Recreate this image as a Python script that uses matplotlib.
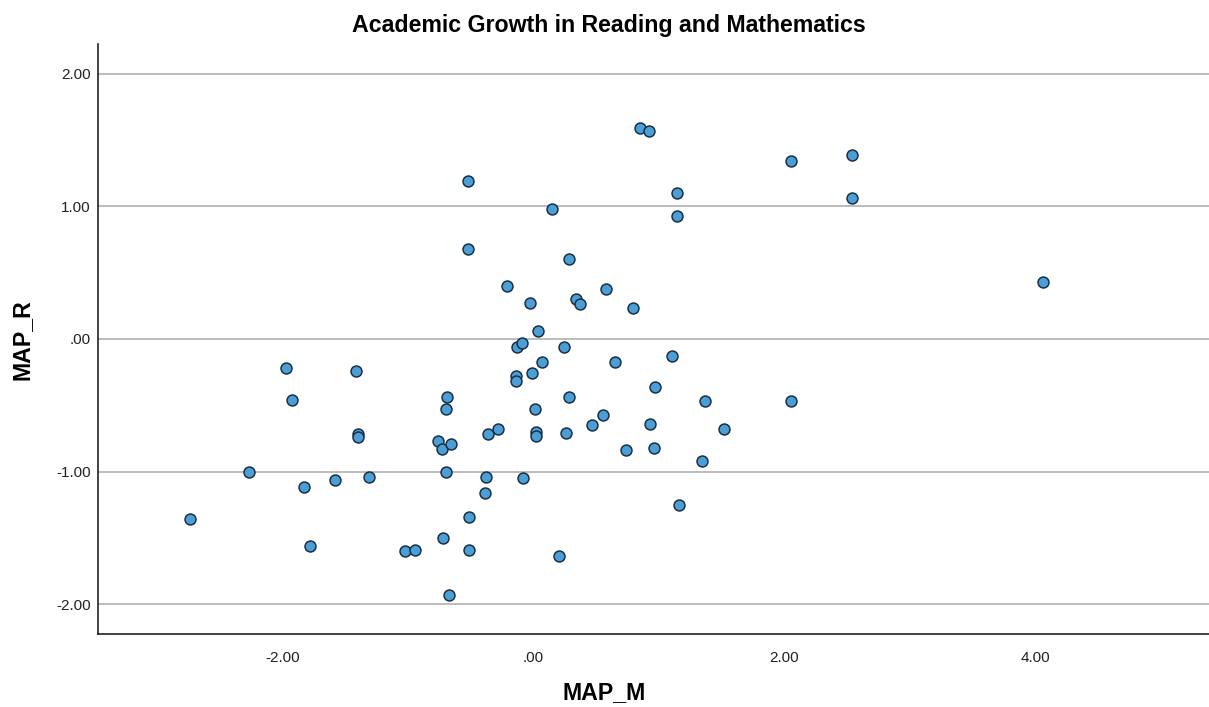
import matplotlib
matplotlib.use("Agg")
import matplotlib.pyplot as plt
from matplotlib.ticker import FuncFormatter

# Standardized growth scores: mathematics (MAP_M) vs reading (MAP_R)
map_m = [-0.52, -0.52, 0.85, 0.92, 2.05, 2.54, 2.54, 1.14, 1.14, 0.15,
         0.28, -0.21, -0.03, 0.34, 0.37, 0.58, 0.79, 0.04, -0.13, -0.09,
         0.24, 0.07, 0.65, 1.10, -0.14, -0.14, -0.01, 0.97, 0.28, 0.01,
         1.37, 2.05, 0.55, 0.47, 0.93, 1.52, -0.28, -0.36, 0.02, 0.02,
         0.26, 0.74, 0.96, 1.34, -0.38, -0.08, -0.39, 1.16, 0.20, -1.97,
         -1.41, -1.92, -0.69, -0.70, -1.40, -1.40, -0.76, -0.73, -0.66, -0.70,
         -2.27, -1.83, -1.58, -1.31, -2.74, -0.51, -1.78, -1.02, -0.94, -0.72,
         -0.51, -0.67, 4.06]
map_r = [1.19, 0.68, 1.59, 1.57, 1.34, 1.39, 1.06, 1.10, 0.93, 0.98,
         0.60, 0.40, 0.27, 0.30, 0.26, 0.38, 0.23, 0.06, -0.06, -0.03,
         -0.06, -0.17, -0.17, -0.13, -0.28, -0.32, -0.26, -0.36, -0.44, -0.53,
         -0.47, -0.47, -0.57, -0.65, -0.64, -0.68, -0.68, -0.72, -0.70, -0.73,
         -0.71, -0.84, -0.82, -0.92, -1.04, -1.05, -1.16, -1.25, -1.64, -0.22,
         -0.24, -0.46, -0.44, -0.53, -0.72, -0.74, -0.77, -0.83, -0.79, -1.00,
         -1.00, -1.12, -1.06, -1.04, -1.36, -1.34, -1.56, -1.60, -1.59, -1.50,
         -1.59, -1.93, 0.43]

x_ticks = [-2.0, 0.0, 2.0, 4.0]
y_ticks = [-2.0, -1.0, 0.0, 1.0, 2.0]

plt.rcParams["font.family"] = ["Liberation Sans", "DejaVu Sans"]

fig = plt.figure(figsize=(12.09, 7.07), dpi=100)
ax = fig.add_axes([0.081, 0.1033, 0.919, 0.8345])

ax.scatter(map_m, map_r, s=62, facecolor="#4a9fd6", edgecolor="#1c2f45",
           linewidths=1.1, zorder=3)

ax.set_xlim(-3.47, 5.382)
ax.set_ylim(-2.225, 2.225)
ax.set_xticks(x_ticks)
ax.set_yticks(y_ticks)


def spss_fmt(v, _pos):
    s = f"{v:.2f}"
    if s.startswith("0."):
        s = s[1:]
    elif s.startswith("-0."):
        s = "-" + s[2:]
    return s


ax.xaxis.set_major_formatter(FuncFormatter(spss_fmt))
ax.yaxis.set_major_formatter(FuncFormatter(spss_fmt))
ax.tick_params(axis="both", length=0, labelsize=11, colors="#222222")
ax.tick_params(axis="x", pad=12)
ax.tick_params(axis="y", pad=5)

ax.yaxis.grid(True, color="#b0b0b0", linewidth=1.2)
ax.set_axisbelow(True)
for side in ("top", "right"):
    ax.spines[side].set_visible(False)
for side in ("left", "bottom"):
    ax.spines[side].set_color("#222222")
    ax.spines[side].set_linewidth(1.2)

fig.text(0.5033, 0.9547, "Academic Growth in Reading and Mathematics",
         ha="center", va="baseline", fontsize=16.7, fontweight="bold")
fig.text(0.4996, 0.011, "MAP_M", ha="center", va="baseline",
         fontsize=16.7, fontweight="bold")
fig.text(0.018, 0.519, "MAP_R", ha="center", va="center", rotation=90,
         fontsize=16.7, fontweight="bold")

fig.savefig("out.png", dpi=100, facecolor="white")
